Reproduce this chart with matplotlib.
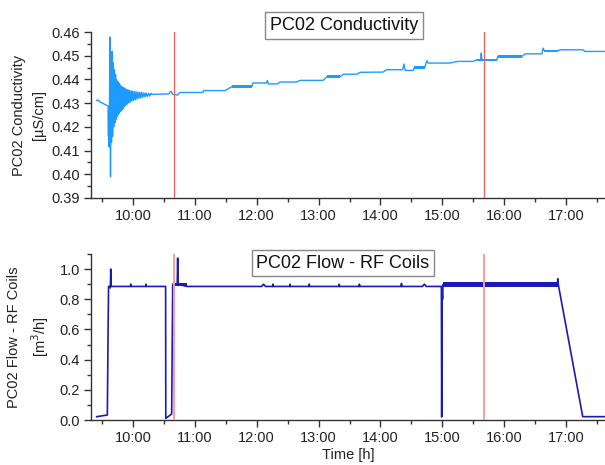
import matplotlib
matplotlib.use("Agg")
import matplotlib.pyplot as plt
from matplotlib.ticker import MultipleLocator, FuncFormatter

plt.rcParams['font.family'] = ['Liberation Sans', 'DejaVu Sans']

# ---------------- data ----------------
# Conductivity (time in hours, value in uS/cm)
cond_t = [9.413, 9.425, 9.44, 9.47, 9.52, 9.56, 9.598,
          9.603, 9.606, 9.609, 9.612, 9.616, 9.620, 9.628, 9.636,
          9.645, 9.652, 9.662, 9.670, 9.680, 9.688, 9.700, 9.708,
          9.718, 9.726, 9.736, 9.744, 9.754, 9.762, 9.772, 9.780,
          9.790, 9.800, 9.810, 9.820, 9.830, 9.840, 9.850, 9.862,
          9.874, 9.886, 9.898, 9.910, 9.922, 9.934, 9.946, 9.958,
          9.970, 9.982, 9.994, 10.008, 10.022, 10.036, 10.050, 10.065,
          10.080, 10.095, 10.110, 10.125, 10.140, 10.158, 10.176, 10.194,
          10.212, 10.230, 10.250, 10.270, 10.290,
          10.30, 10.45, 10.58, 10.60, 10.62, 10.64, 10.72, 10.76,
          11.13, 11.14, 11.49, 11.60, 11.92, 11.94, 12.16, 12.17,
          12.19, 12.33, 12.38, 12.65, 12.70, 13.07, 13.14, 13.35,
          13.40, 13.62, 13.67, 14.04, 14.10, 14.36, 14.38, 14.40,
          14.53, 14.55, 14.72, 14.75, 14.77, 15.12, 15.25, 15.50,
          15.56, 15.62, 15.63, 15.64, 15.88, 15.90, 16.29, 16.34,
          16.61, 16.63, 16.65, 16.87, 16.90, 17.27, 17.31, 17.63]
cond_v = [0.4312, 0.4310, 0.4313, 0.4305, 0.4298, 0.4293, 0.4288,
          0.4160, 0.4270, 0.4120, 0.4260, 0.4115, 0.4300, 0.4579, 0.3990,
          0.4450, 0.4135, 0.4518, 0.4159, 0.4470, 0.4200, 0.4441, 0.4217,
          0.4420, 0.4232, 0.4398, 0.4244, 0.4390, 0.4252, 0.4385, 0.4258,
          0.4377, 0.4265, 0.4372, 0.4272, 0.4368, 0.4278, 0.4365, 0.4284,
          0.4362, 0.4290, 0.4358, 0.4296, 0.4356, 0.4301, 0.4353, 0.4305,
          0.4352, 0.4309, 0.4350, 0.4312, 0.4349, 0.4314, 0.4348, 0.4317,
          0.4347, 0.4320, 0.4346, 0.4322, 0.4345, 0.4324, 0.4344, 0.4326,
          0.4343, 0.4328, 0.4342, 0.4330, 0.4341,
          0.4337, 0.4338, 0.4339, 0.4348, 0.4349, 0.4337, 0.4334, 0.4345,
          0.4345, 0.4353, 0.4353, 0.4370, 0.4370, 0.4385, 0.4385, 0.4396,
          0.4381, 0.4381, 0.4389, 0.4389, 0.4396, 0.4396, 0.4412, 0.4412,
          0.4422, 0.4422, 0.4430, 0.4431, 0.4441, 0.4441, 0.4465, 0.4438,
          0.4438, 0.4452, 0.4452, 0.4479, 0.4469, 0.4469, 0.4476, 0.4476,
          0.4483, 0.4483, 0.4511, 0.4483, 0.4483, 0.4497, 0.4497, 0.4508,
          0.4508, 0.4532, 0.4521, 0.4521, 0.4525, 0.4525, 0.4518, 0.4518]
# noisy stretches of conductivity: (start, end, low, high)
cond_bands = [(11.60, 11.92, 0.4363, 0.4377),
              (13.14, 13.35, 0.4405, 0.4418),
              (14.55, 14.72, 0.4446, 0.4458),
              (15.56, 15.88, 0.4479, 0.4487),
              (15.90, 16.29, 0.4490, 0.4503),
              (16.65, 16.87, 0.4517, 0.4526)]

# Flow (time in hours, value in m3/h)
flow_t = [9.413, 9.585, 9.598, 9.605, 9.625, 9.632, 9.636, 9.640, 9.644, 9.655,
          9.961, 9.963, 9.965, 10.208, 10.210, 10.212, 10.527, 10.530, 10.625,
          10.642, 10.650, 10.715, 10.722, 10.728, 10.87,
          12.08, 12.11, 12.14, 12.258, 12.260, 12.262, 12.538, 12.540, 12.542,
          12.848, 12.850, 12.852, 13.333, 13.335, 13.337, 13.658, 13.660, 13.662,
          14.338, 14.340, 14.342, 14.68, 14.71, 14.74,
          14.985, 14.990, 14.998, 15.004, 15.010, 16.86, 16.866, 16.875,
          17.27, 17.63]
flow_v = [0.022, 0.033, 0.620, 0.885, 0.885, 0.875, 0.900, 1.000, 0.885, 0.885,
          0.885, 0.900, 0.885, 0.885, 0.900, 0.885, 0.885, 0.011, 0.040,
          0.900, 0.900, 0.900, 1.073, 0.900, 0.885,
          0.885, 0.900, 0.885, 0.885, 0.900, 0.885, 0.885, 0.900, 0.885,
          0.885, 0.900, 0.885, 0.885, 0.900, 0.885, 0.885, 0.900, 0.885,
          0.885, 0.905, 0.885, 0.885, 0.900, 0.885,
          0.885, 0.020, 0.850, 0.800, 0.898, 0.898, 0.936, 0.898,
          0.022, 0.022]
flow_bands = [(10.642, 10.87, 0.889, 0.907),
              (15.01, 16.866, 0.883, 0.912)]

marker_times = [10.66, 15.68]

x_ticks = [10, 11, 12, 13, 14, 15, 16, 17]

# ---------------- plotting ----------------
W, H = 605, 465
fig = plt.figure(figsize=(W / 100, H / 100), dpi=100)

def px_axes(left, top, right, bottom):
    return fig.add_axes([left / W, 1 - bottom / H, (right - left) / W, (bottom - top) / H])

ax1 = px_axes(91, 32, 605, 198)
ax2 = px_axes(91, 254, 605, 420)

cond_color = '#1e9bff'
flow_color = '#1a1ab4'
red_top = '#ff5a5a'
red_bot = '#ff9a9a'

ax1.plot(cond_t, cond_v, color=cond_color, lw=1.0, zorder=2)
for t0, t1, lo, hi in cond_bands:
    ax1.fill_between([t0, t1], [lo, lo], [hi, hi], color=cond_color, lw=0, zorder=2)
for t in marker_times:
    ax1.axvline(t, color=red_top, lw=0.9, zorder=3)

ax2.plot(flow_t, flow_v, color=flow_color, lw=1.2, zorder=2)
for t0, t1, lo, hi in flow_bands:
    ax2.fill_between([t0, t1], [lo, lo], [hi, hi], color=flow_color, lw=0, zorder=2)
for t in marker_times:
    ax2.axvline(t, color=red_bot, lw=1.4, zorder=3)

fmt = FuncFormatter(lambda v, p: f"{int(round(v)):d}:00")
for ax in (ax1, ax2):
    ax.set_xlim(9.321, 17.63)
    ax.set_xticks(x_ticks)
    ax.xaxis.set_major_formatter(fmt)
    ax.xaxis.set_minor_locator(MultipleLocator(0.5))
    for s in ('top', 'right'):
        ax.spines[s].set_visible(False)
    for s in ('left', 'bottom'):
        ax.spines[s].set_linewidth(1.0)
        ax.spines[s].set_color('#333333')
    ax.tick_params(which='major', direction='out', length=5, width=1.0,
                   labelsize=10.5, colors='#333333', labelcolor='#222222', pad=3)
    ax.tick_params(which='minor', direction='out', length=3, width=1.0, colors='#333333')

ax1.set_ylim(0.39, 0.46)
ax1.yaxis.set_major_locator(MultipleLocator(0.01))
ax1.yaxis.set_minor_locator(MultipleLocator(0.005))
ax1.yaxis.set_major_formatter(FuncFormatter(lambda v, p: f"{v:.2f}"))

ax2.set_ylim(0.0, 1.1)
ax2.yaxis.set_major_locator(MultipleLocator(0.2))
ax2.yaxis.set_minor_locator(MultipleLocator(0.1))
ax2.yaxis.set_major_formatter(FuncFormatter(lambda v, p: f"{v:.1f}"))

box = dict(boxstyle='square,pad=0.25', facecolor='white', edgecolor='#888888', lw=1.0)
fig.text(344 / W, 1 - 25.5 / H, 'PC02 Conductivity', ha='center', va='center',
         fontsize=13, color='#111111', bbox=box, zorder=10)
fig.text(343 / W, 1 - 263 / H, 'PC02 Flow - RF Coils', ha='center', va='center',
         fontsize=13, color='#111111', bbox=box, zorder=10)

fig.text(29 / W, 1 - 115 / H, 'PC02 Conductivity\n[µS/cm]', rotation=90,
         ha='center', va='center', multialignment='center', fontsize=10.5,
         color='#222222', linespacing=1.5)
fig.text(29 / W, 1 - 337 / H, 'PC02 Flow - RF Coils\n[m$^3$/h]', rotation=90,
         ha='center', va='center', multialignment='center', fontsize=10.5,
         color='#222222', linespacing=1.5)
fig.text(348 / W, 1 - 455 / H, 'Time [h]', ha='center', va='center',
         fontsize=10.5, color='#222222')

fig.savefig('out.png', dpi=100)
